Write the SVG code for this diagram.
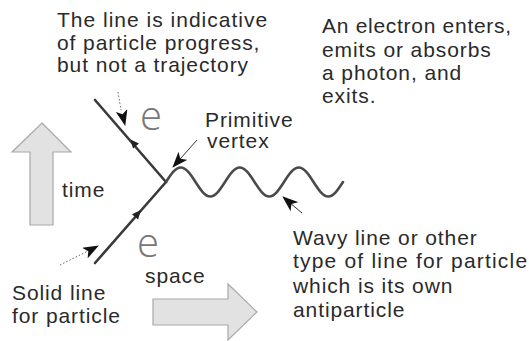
<svg xmlns="http://www.w3.org/2000/svg" width="529" height="341" viewBox="0 0 529 341">
<style>
  .t { font-family: "Liberation Sans", Arial, sans-serif; font-size: 21px; fill: #2a2a2a; letter-spacing: 0.9px; }
  .e { font-family: "Open Sans", "Liberation Sans", sans-serif; font-weight: 300; font-size: 40px; fill: #777; }
  .fermion { stroke: #3a3a3a; stroke-width: 2.6; fill: none; stroke-linecap: round; }
  .photon { stroke: #4a4a4a; stroke-width: 2.6; fill: none; stroke-linecap: round; }
  .big { fill: #e2e2e2; stroke: #a8a8a8; stroke-width: 1.2; stroke-linejoin: miter; }
  .head { fill: #222; }
  .ann { stroke: #333; stroke-width: 1; fill: none; }
  .annd { stroke: #666; stroke-width: 1; fill: none; stroke-dasharray: 1.5 2; }
</style>
<defs>
  <marker id="ah" markerUnits="userSpaceOnUse" markerWidth="16" markerHeight="12" viewBox="0 0 16 12" refX="15" refY="6" orient="auto">
    <path d="M0,0 L16,6 L0,12 L4,6 Z" fill="#111"/>
  </marker>
</defs>

<g id="time-arrow">
  <polygon class="big" points="42,123 71,152 53,152 53,225 30,225 30,152 12,152"/>
  <text class="t" x="62" y="197">time</text>
</g>

<g id="space-arrow">
  <polygon class="big" points="153,299 228,299 228,284 257,312 228,340 228,325 153,325"/>
  <text class="t" x="145" y="283">space</text>
</g>

<g id="connectors">
  <line id="electron-out" class="fermion" x1="166" y1="182" x2="95" y2="100"/>
  <line id="electron-in" class="fermion" x1="95" y1="263" x2="166" y2="182"/>
  <polygon class="head" points="130.5,139.5 139,143.5 133,148.5"/>
  <polygon class="head" points="141,210 138,219.4 132,214.2"/>
  <path id="photon" class="photon" d="M166,182 c4.81,-7.43 9.41,-14.5 14.75,-14.5 s9.94,7.07 14.75,14.5 s9.41,14.5 14.75,14.5 s9.94,-7.07 14.75,-14.5 s9.41,-14.5 14.75,-14.5 s9.94,7.07 14.75,14.5 s9.41,14.5 14.75,14.5 s9.94,-7.07 14.75,-14.5 s9.41,-14.5 14.75,-14.5 s9.94,7.07 14.75,14.5 s9.41,14.5 14.75,14.5 s9.94,-7.07 14.75,-14.5"/>
  <path class="annd" d="M118,92 L121,110" />
  <line class="ann" x1="120.5" y1="106" x2="125" y2="125" marker-end="url(#ah)" stroke-opacity="0"/>
  <line class="ann" x1="197" y1="140" x2="173" y2="167" marker-end="url(#ah)"/>
  <line class="ann" x1="302" y1="213" x2="283" y2="197" stroke-width="1.5" marker-end="url(#ah)"/>
  <path class="annd" d="M60,265 L88,251"/>
  <line class="ann" x1="85" y1="253" x2="98" y2="246" marker-end="url(#ah)" stroke-opacity="0"/>
</g>

<g id="label-trajectory">
  <text class="t" x="57" y="27" textLength="211">The line is indicative</text>
  <text class="t" x="57" y="50">of particle progress,</text>
  <text class="t" x="57" y="72">but not a trajectory</text>
</g>

<g id="label-electron">
  <text class="t" x="322" y="33" textLength="190">An electron enters,</text>
  <text class="t" x="322" y="57">emits or absorbs</text>
  <text class="t" x="322" y="80">a photon, and</text>
  <text class="t" x="322" y="103">exits.</text>
</g>

<g id="label-vertex">
  <text class="t" x="205" y="127">Primitive</text>
  <text class="t" x="207" y="148">vertex</text>
</g>

<g id="label-e-top"><text class="e" x="140" y="130">e</text></g>
<g id="label-e-bottom"><text class="e" x="137" y="257">e</text></g>

<g id="label-solid">
  <text class="t" x="12" y="300">Solid line</text>
  <text class="t" x="12" y="323">for particle</text>
</g>

<g id="label-wavy">
  <text class="t" x="293" y="245">Wavy line or other</text>
  <text class="t" x="293" y="268" textLength="235">type of line for particle</text>
  <text class="t" x="293" y="293">which is its own</text>
  <text class="t" x="293" y="317">antiparticle</text>
</g>
</svg>
